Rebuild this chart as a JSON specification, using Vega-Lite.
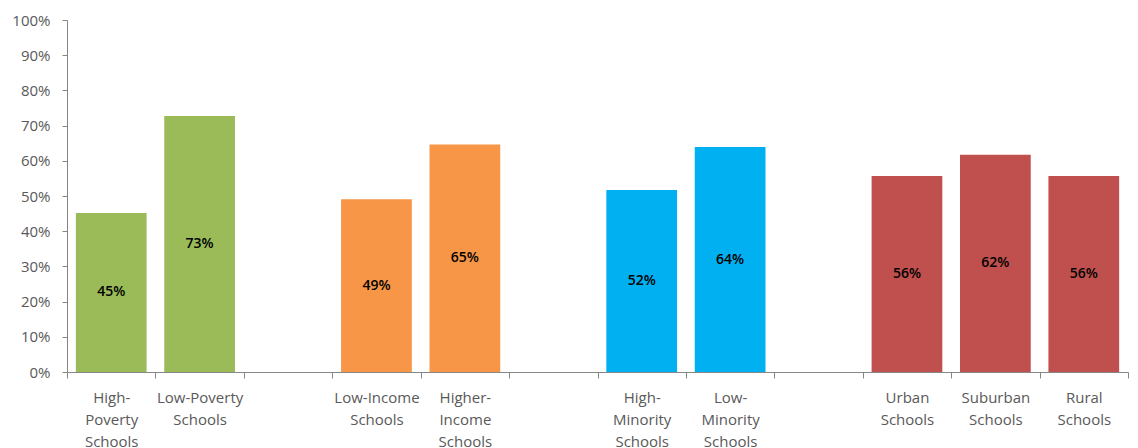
{
  "$schema": "https://vega.github.io/schema/vega-lite/v6.json",
  "width": 1061,
  "height": 352,
  "autosize": "none",
  "padding": {"left": 67, "top": 20, "right": 10, "bottom": 76},
  "background": "white",
  "config": {"view": {"stroke": null}, "font": "Open Sans"},
  "data": {
    "values": [
      {"cat": "High-|Poverty|Schools", "value": 0.452, "group": "poverty"},
      {"cat": "Low-Poverty|Schools", "value": 0.727, "group": "poverty"},
      {"cat": "Low-Income|Schools", "value": 0.491, "group": "income"},
      {"cat": "Higher-|Income|Schools", "value": 0.646, "group": "income"},
      {"cat": "High-|Minority|Schools", "value": 0.517, "group": "minority"},
      {"cat": "Low-|Minority|Schools", "value": 0.639, "group": "minority"},
      {"cat": "Urban|Schools", "value": 0.557, "group": "locale"},
      {"cat": "Suburban|Schools", "value": 0.617, "group": "locale"},
      {"cat": "Rural|Schools", "value": 0.557, "group": "locale"}
    ]
  },
  "encoding": {
    "x": {
      "field": "cat",
      "type": "nominal",
      "sort": null,
      "scale": {
        "domain": ["High-|Poverty|Schools", "Low-Poverty|Schools", "gap1", "Low-Income|Schools", "Higher-|Income|Schools", "gap2", "High-|Minority|Schools", "Low-|Minority|Schools", "gap3", "Urban|Schools", "Suburban|Schools", "Rural|Schools"],
        "paddingInner": 0,
        "paddingOuter": 0
      },
      "axis": {
        "title": null,
        "labelAngle": 0,
        "labelExpr": "isString(datum.value) && indexof(datum.value, 'gap') != 0 ? split(datum.value, '|') : ''",
        "labelFontSize": 15,
        "labelColor": "#595959",
        "labelLineHeight": 22,
        "labelPadding": 12,
        "tickBand": "extent",
        "tickSize": 6,
        "tickColor": "#868686",
        "domainColor": "#868686",
        "labelLimit": 200
      }
    }
  },
  "layer": [
    {
      "mark": {"type": "bar", "width": {"band": 0.8}},
      "encoding": {
        "y": {
          "field": "value",
          "type": "quantitative",
          "scale": {"domain": [0, 1]},
          "axis": {
            "title": null,
            "format": ".0%",
            "grid": false,
            "labelFontSize": 15,
            "labelColor": "#595959",
            "tickSize": 5,
            "tickColor": "#868686",
            "domainColor": "#868686",
            "labelPadding": 12
          }
        },
        "color": {
          "field": "group",
          "type": "nominal",
          "scale": {"domain": ["poverty", "income", "minority", "locale"], "range": ["#9BBB59", "#F79646", "#00B0F0", "#C0504D"]},
          "legend": null
        }
      }
    },
    {
      "transform": [{"calculate": "datum.value / 2", "as": "mid"}],
      "mark": {"type": "text", "fontSize": 14, "fontWeight": 600, "color": "black", "baseline": "middle"},
      "encoding": {
        "y": {"field": "mid", "type": "quantitative"},
        "text": {"field": "value", "type": "quantitative", "format": ".0%"}
      }
    }
  ]
}
